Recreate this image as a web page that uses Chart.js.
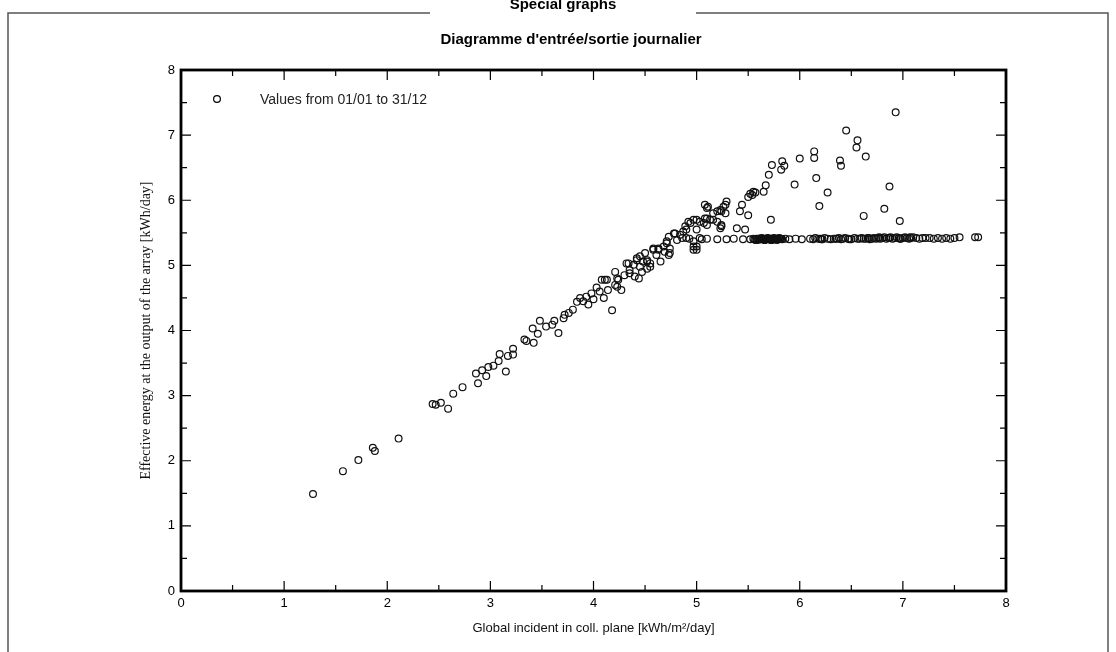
<!DOCTYPE html>
<html>
<head>
<meta charset="utf-8">
<script src="https://cdn.jsdelivr.net/npm/chart.js@4.4.0/dist/chart.umd.min.js"></script>
<style>
  html, body { margin: 0; padding: 0; background: #fff; }
  #chart { display: block; }
</style>
</head>
<body>
<canvas id="chart" width="1116" height="652"></canvas>
<script>
// daily values: global incident (kWh/m2/day) vs effective energy (kWh/day)
const rampX = [
  1.28,1.57,1.72,1.86,1.88,2.11,2.44,2.47,2.52,2.59,
  2.64,2.73,2.88,2.86,2.92,2.96,2.98,3.03,3.08,3.09,
  3.15,3.17,3.22,3.22,3.33,3.35,3.42,3.41,3.48,3.46,
  3.54,3.60,3.62,3.66,3.71,3.72,3.76,3.80,3.84,3.87,
  3.90,3.93,3.95,3.98,4.00,4.03,4.06,4.08,4.10,4.11,
  4.13,4.14,4.18,4.21,4.21,4.23,4.23,4.24,4.27,4.30,
  4.32,4.34,4.35,4.35,4.39,4.40,4.42,4.42,4.44,4.45,
  4.45,4.47,4.48,4.50,4.52,4.52,4.52,4.55,4.55,4.58,
  4.58,4.61,4.63,4.63,4.65,4.68,4.69,4.71,4.71,4.73,
  4.73,4.74,4.74,4.78,4.79,4.81,4.84,4.87,4.89,4.90,
  4.90,4.92,4.94,4.97,4.97,4.97,4.97,5.00,5.00,5.00,
  5.00,5.03,5.03,5.07,5.08,5.08,5.10,5.10,5.10,5.11,
  5.13,5.16,5.16,5.20,5.20,5.23,5.23,5.24,5.24,5.24,
  5.26,5.28,5.28,5.29,5.39,5.42,5.44,5.47,5.50,5.50,
  5.52,5.54,5.55,5.57,5.65,5.67,5.70,5.72,5.73,5.82,
  5.83,5.85,5.95,6.00,6.14,6.14,6.16,6.19,6.27,6.39,
  6.40,6.45,6.55,6.56,6.62,6.64,6.82,6.87,6.93,6.97
];
const rampY = [
  1.49,1.84,2.01,2.20,2.15,2.34,2.87,2.86,2.89,2.80,
  3.03,3.13,3.19,3.34,3.39,3.30,3.44,3.46,3.53,3.64,
  3.37,3.61,3.72,3.63,3.86,3.84,3.81,4.03,4.15,3.95,
  4.06,4.09,4.15,3.96,4.19,4.24,4.27,4.32,4.44,4.50,
  4.45,4.52,4.40,4.57,4.48,4.66,4.60,4.78,4.50,4.78,
  4.78,4.62,4.31,4.70,4.90,4.80,4.67,4.78,4.62,4.85,
  5.03,5.03,4.88,4.93,5.01,4.83,5.11,5.08,4.80,4.98,
  5.14,4.90,5.06,5.19,5.06,5.08,4.95,5.03,4.98,5.26,
  5.24,5.16,5.24,5.26,5.06,5.29,5.21,5.34,5.37,5.44,
  5.16,5.26,5.19,5.49,5.49,5.39,5.47,5.52,5.60,5.55,
  5.42,5.67,5.65,5.70,5.37,5.29,5.24,5.55,5.70,5.29,
  5.24,5.67,5.42,5.65,5.72,5.93,5.72,5.88,5.62,5.90,
  5.70,5.70,5.80,5.83,5.67,5.85,5.57,5.62,5.83,5.60,
  5.90,5.80,5.93,5.98,5.57,5.83,5.93,5.55,5.77,6.05,
  6.10,6.08,6.13,6.12,6.13,6.23,6.39,5.70,6.54,6.47,
  6.60,6.53,6.24,6.64,6.75,6.65,6.34,5.91,6.12,6.61,
  6.53,7.07,6.81,6.92,5.76,6.67,5.87,6.21,7.35,5.68
];
// days limited by the inverter (flat line near 5.4)
const flatX = [
  4.86,4.93,5.05,5.10,5.20,5.29,5.36,5.45,5.52,5.55,
  5.56,5.58,5.59,5.60,5.61,5.62,5.63,5.64,5.65,5.66,
  5.67,5.68,5.69,5.70,5.71,5.72,5.73,5.74,5.75,5.76,
  5.77,5.78,5.79,5.80,5.81,5.83,5.86,5.90,5.96,6.02,
  6.10,6.13,6.15,6.18,6.20,6.22,6.24,6.27,6.30,6.33,
  6.36,6.38,6.40,6.42,6.44,6.47,6.50,6.53,6.56,6.58,
  6.60,6.62,6.64,6.66,6.68,6.70,6.72,6.74,6.76,6.78,
  6.80,6.82,6.84,6.86,6.88,6.90,6.92,6.94,6.96,6.98,
  7.00,7.02,7.04,7.06,7.08,7.10,7.13,7.16,7.19,7.22,
  7.26,7.30,7.34,7.38,7.42,7.46,7.50,7.55,7.70,7.73,
  5.57,5.60,5.62,5.64,5.66,5.68,5.70,5.72,5.74,5.76,
  5.78,5.82,6.21,6.35,6.48,6.67,6.77,6.87,6.97,7.07
];
const flatY = [
  5.42,5.41,5.40,5.41,5.40,5.40,5.41,5.40,5.40,5.41,
  5.40,5.41,5.39,5.40,5.41,5.40,5.42,5.40,5.41,5.39,
  5.41,5.40,5.42,5.41,5.40,5.41,5.39,5.40,5.42,5.41,
  5.40,5.41,5.40,5.42,5.41,5.40,5.41,5.40,5.41,5.40,
  5.41,5.40,5.42,5.41,5.41,5.40,5.42,5.41,5.40,5.41,
  5.41,5.42,5.40,5.41,5.42,5.41,5.40,5.42,5.41,5.41,
  5.42,5.41,5.41,5.42,5.40,5.41,5.42,5.41,5.42,5.41,
  5.42,5.43,5.41,5.42,5.43,5.41,5.42,5.43,5.42,5.41,
  5.42,5.43,5.42,5.41,5.42,5.43,5.42,5.41,5.42,5.42,
  5.42,5.41,5.42,5.41,5.42,5.41,5.42,5.43,5.43,5.43,
  5.39,5.41,5.40,5.41,5.39,5.41,5.40,5.39,5.41,5.40,
  5.39,5.41,5.40,5.41,5.40,5.42,5.43,5.42,5.41,5.43
];

const pageTitle = 'Special graphs';
const chartTitle = "Diagramme d'entrée/sortie journalier";
const seriesLabel = 'Values from 01/01 to 31/12';
const xTitle = 'Global incident in coll. plane [kWh/m²/day]';
const yTitle = 'Effective energy at the output of the array [kWh/day]';

const points = [];
rampX.forEach((x, i) => points.push({x: x, y: rampY[i]}));
flatX.forEach((x, i) => points.push({x: x, y: flatY[i]}));

const SANS = "'Liberation Sans', Arial, sans-serif";
const SERIF = "'Liberation Serif', 'Times New Roman', serif";

// outer report frame + header behind the chart
const framePlugin = {
  id: 'frame',
  beforeDraw(chart) {
    const c = chart.ctx;
    c.save();
    c.fillStyle = '#fff';
    c.fillRect(0, 0, chart.width, chart.height);
    c.font = 'bold 15px ' + SANS;
    c.fillStyle = '#000';
    c.textAlign = 'center';
    c.textBaseline = 'alphabetic';
    c.fillText(pageTitle, 563, 9);
    c.strokeStyle = '#555';
    c.lineWidth = 1.5;
    c.beginPath();
    c.moveTo(8, chart.height); c.lineTo(8, 13); c.lineTo(430, 13);
    c.moveTo(696, 13); c.lineTo(1108, 13); c.lineTo(1108, chart.height);
    c.stroke();
    c.restore();
  },
  afterDraw(chart) {
    const c = chart.ctx;
    const a = chart.chartArea;
    const xs = chart.scales.x, ys = chart.scales.y;
    c.save();
    c.strokeStyle = '#000';
    // inward ticks on all four sides
    c.lineWidth = 1.2;
    c.beginPath();
    for (let v = 0.5; v < 8; v += 0.5) {
      const len = Number.isInteger(v) ? 10 : 6;
      const px = xs.getPixelForValue(v);
      c.moveTo(px, a.bottom); c.lineTo(px, a.bottom - len);
      c.moveTo(px, a.top); c.lineTo(px, a.top + len);
      const py = ys.getPixelForValue(v);
      c.moveTo(a.left, py); c.lineTo(a.left + len, py);
      c.moveTo(a.right, py); c.lineTo(a.right - len, py);
    }
    c.stroke();
    c.lineWidth = 2.8;
    c.strokeRect(a.left, a.top, a.right - a.left, a.bottom - a.top);
    // legend inside the plot
    const ds = chart.data.datasets[0];
    c.lineWidth = ds.borderWidth;
    c.beginPath();
    c.arc(a.left + 36, a.top + 29, ds.pointRadius, 0, Math.PI * 2);
    c.stroke();
    c.font = '14px ' + SANS;
    c.fillStyle = '#222';
    c.textAlign = 'left';
    c.textBaseline = 'middle';
    c.fillText(ds.label, a.left + 79, a.top + 30);
    c.restore();
  }
};

new Chart(document.getElementById('chart'), {
  type: 'scatter',
  data: {
    datasets: [{
      label: seriesLabel,
      data: points,
      pointStyle: 'circle',
      pointRadius: 3.4,
      borderWidth: 1.2,
      borderColor: '#111',
      backgroundColor: 'rgba(0,0,0,0)',
      pointBackgroundColor: 'rgba(0,0,0,0)'
    }]
  },
  options: {
    responsive: false,
    animation: false,
    devicePixelRatio: 1,
    layout: { padding: { left: 136, right: 110, top: 0, bottom: 11 } },
    plugins: {
      legend: { display: false },
      tooltip: { enabled: false },
      title: {
        display: true,
        text: chartTitle,
        color: '#000',
        font: { family: SANS, size: 15, weight: 'bold' },
        padding: { top: 31, bottom: 21 }
      }
    },
    scales: {
      x: {
        type: 'linear',
        min: 0, max: 8,
        ticks: { stepSize: 1, padding: 5, color: '#000', font: { family: SANS, size: 13 } },
        grid: { display: false, drawTicks: false },
        border: { display: false },
        title: { display: true, text: xTitle, color: '#111', font: { family: SANS, size: 13 }, padding: { top: 2, bottom: 5 } },
        afterFit(s) { s.height = 50; }
      },
      y: {
        min: 0, max: 8,
        ticks: { stepSize: 1, padding: 6, color: '#000', font: { family: SANS, size: 13 } },
        grid: { display: false, drawTicks: false },
        border: { display: false },
        title: { display: true, text: yTitle, color: '#111', font: { family: SERIF, size: 14 }, padding: { top: 2, bottom: 0 } },
        afterFit(s) { s.width = 45; }
      }
    }
  },
  plugins: [framePlugin]
});
</script>
</body>
</html>
